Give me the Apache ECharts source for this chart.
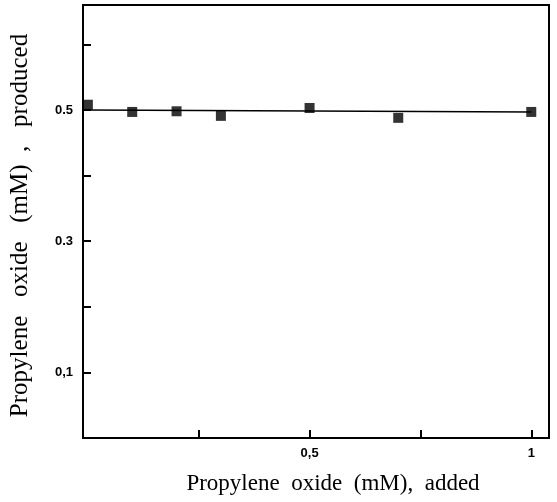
<!DOCTYPE html>
<html>
<head>
<meta charset="utf-8">
<script src="https://cdn.jsdelivr.net/npm/echarts@6/dist/echarts.min.js"></script>
<style>
  html, body { margin: 0; padding: 0; background: #fff; }
  #chart { width: 557px; height: 502px; }
</style>
</head>
<body>
<div id="chart"></div>
<script>
// Propylene oxide added vs. produced (mM)
const added = [0, 0.1, 0.2, 0.3, 0.5, 0.7, 1.0];
const produced = [0.508, 0.497, 0.498, 0.491, 0.503, 0.488, 0.497];

// fitted line end points
const fitX = [0, 1.0];
const fitY = [0.5, 0.497];

// tick positions and their printed labels
const xTicks = [0.25, 0.5, 0.75, 1];
const xLabels = { '0.5': '0,5', '1': '1' };
const yTicks = [0.1, 0.2, 0.3, 0.4, 0.5, 0.6];
const yLabels = { '0.1': '0,1', '0.3': '0.3', '0.5': '0.5' };

const chart = echarts.init(document.getElementById('chart'), null, { renderer: 'canvas' });

const tickFont = { fontFamily: 'Liberation Sans', fontWeight: 'bold', fontSize: 13, color: '#000' };

chart.setOption({
  animation: false,
  backgroundColor: '#fff',
  grid: {
    left: 83, right: 8, top: 5, bottom: 64,
    outerBoundsMode: 'none',
    containLabel: false,
    show: true, borderColor: '#000', borderWidth: 2
  },
  xAxis: {
    type: 'value',
    min: -0.011, max: 1.04,
    name: 'Propylene  oxide  (mM),  added',
    nameLocation: 'middle',
    nameGap: 34,
    nameTextStyle: { fontFamily: 'Liberation Serif', fontSize: 23, color: '#000', padding: [0, 0, 0, 34] },
    axisLine: { show: true, onZero: false, lineStyle: { color: '#000', width: 2 } },
    axisTick: { show: true, inside: true, length: 8, lineStyle: { color: '#000', width: 2 }, customValues: xTicks },
    axisLabel: {
      margin: 9,
      customValues: Object.keys(xLabels).map(Number),
      formatter: v => xLabels[String(v)] || '',
      ...tickFont
    },
    splitLine: { show: false }
  },
  yAxis: {
    type: 'value',
    min: 0, max: 0.66,
    name: 'Propylene   oxide   (mM)  ,   produced',
    nameLocation: 'middle',
    nameGap: 50,
    nameTextStyle: { fontFamily: 'Liberation Serif', fontSize: 25, color: '#000', padding: [0, 8, 0, 0] },
    axisLine: { show: true, onZero: false, lineStyle: { color: '#000', width: 2 } },
    axisTick: { show: true, inside: true, length: 8, lineStyle: { color: '#000', width: 2 }, customValues: yTicks },
    axisLabel: {
      margin: 10,
      customValues: Object.keys(yLabels).map(Number),
      formatter: v => yLabels[String(v)] || '',
      ...tickFont
    },
    splitLine: { show: false }
  },
  series: [
    {
      type: 'line',
      data: fitX.map((x, i) => [x, fitY[i]]),
      symbol: 'none',
      lineStyle: { color: '#000', width: 1.5 },
      z: 2
    },
    {
      type: 'scatter',
      data: added.map((x, i) => [x, produced[i]]),
      symbol: 'rect',
      symbolSize: 10,
      itemStyle: { color: '#000' },
      clip: true,
      z: 3
    }
  ]
});
</script>
</body>
</html>
